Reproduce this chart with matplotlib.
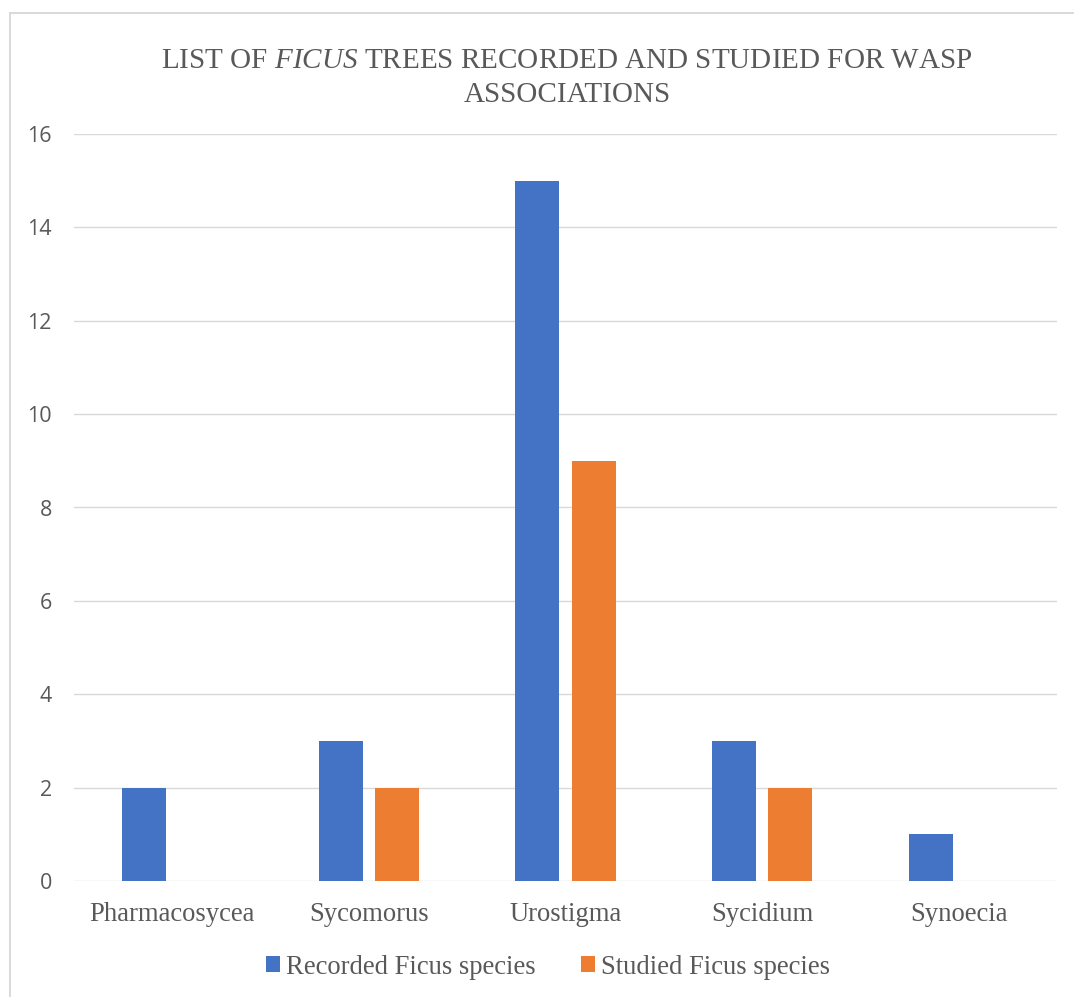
import matplotlib
matplotlib.use("Agg")
import matplotlib.pyplot as plt
from matplotlib.patches import Patch
from matplotlib.lines import Line2D
import numpy as np

# Data
sections = ["Pharmacosycea", "Sycomorus", "Urostigma", "Sycidium", "Synoecia"]
recorded = [2, 3, 15, 3, 1]
studied = [0, 2, 9, 2, 0]
y_ticks = [0, 2, 4, 6, 8, 10, 12, 14, 16]
series_names = ["Recorded Ficus species", "Studied Ficus species"]

BLUE = "#4472C4"
ORANGE = "#ED7D31"
TEXT = "#595959"
GRID = "#D9D9D9"

plt.rcParams["mathtext.fontset"] = "custom"
plt.rcParams["mathtext.rm"] = "Liberation Serif"
plt.rcParams["mathtext.it"] = "Liberation Serif:italic"

W, H = 1074, 997
fig = plt.figure(figsize=(W / 100, H / 100), dpi=100)
fig.patch.set_facecolor("white")

# Chart frame: top and left edges of the chart area
fx, fy = 9.5 / W, 1 - 13 / H
fig.add_artist(Line2D([fx, 1.05], [fy, fy], transform=fig.transFigure,
                      color=GRID, linewidth=1.4))
fig.add_artist(Line2D([fx, fx], [-0.05, fy], transform=fig.transFigure,
                      color=GRID, linewidth=1.4))

ax = fig.add_axes([74 / W, (H - 881) / H, (1057 - 74) / W, (881 - 134) / H])

x = np.arange(len(sections))
bw = 0.224
off = 0.1426
ax.bar(x - off, recorded, bw, color=BLUE, zorder=3, label=series_names[0])
ax.bar(x + off, studied, bw, color=ORANGE, zorder=3, label=series_names[1])

ax.set_xlim(-0.5, len(sections) - 0.5)
ax.set_ylim(0, 16)
ax.set_yticks(y_ticks)
ax.yaxis.grid(True, color=GRID, linewidth=1.0, zorder=0)
ax.set_axisbelow(True)
for s in ax.spines.values():
    s.set_visible(False)

ax.set_xticks(x)
ax.set_xticklabels(sections, fontfamily="Liberation Serif", fontsize=19.2, color=TEXT)
ax.tick_params(axis="x", length=0, pad=15)
ax.tick_params(axis="y", length=0, pad=16, labelsize=15.5, labelcolor=TEXT)
for lab in ax.get_yticklabels():
    lab.set_fontfamily("Open Sans")

# Title
fig.text(567 / W, 1 - 68 / H, r"LIST OF $\mathit{FICUS}$ TREES RECORDED AND STUDIED FOR WASP",
         ha="center", va="baseline", fontsize=21, color=TEXT, fontfamily="Liberation Serif")
fig.text(567 / W, 1 - 102 / H, "ASSOCIATIONS",
         ha="center", va="baseline", fontsize=21, color=TEXT, fontfamily="Liberation Serif")

# Legend
handles = [Patch(facecolor=BLUE), Patch(facecolor=ORANGE)]
fig.legend(handles, series_names, loc="center", bbox_to_anchor=(548 / W, 1 - 967 / H),
           ncol=2, frameon=False, prop={"family": "Liberation Serif", "size": 19.2},
           labelcolor=TEXT, handlelength=0.53, handleheight=0.53, handletextpad=0.22,
           columnspacing=1.72, borderpad=0, borderaxespad=0)

fig.savefig("out.png", dpi=100)
